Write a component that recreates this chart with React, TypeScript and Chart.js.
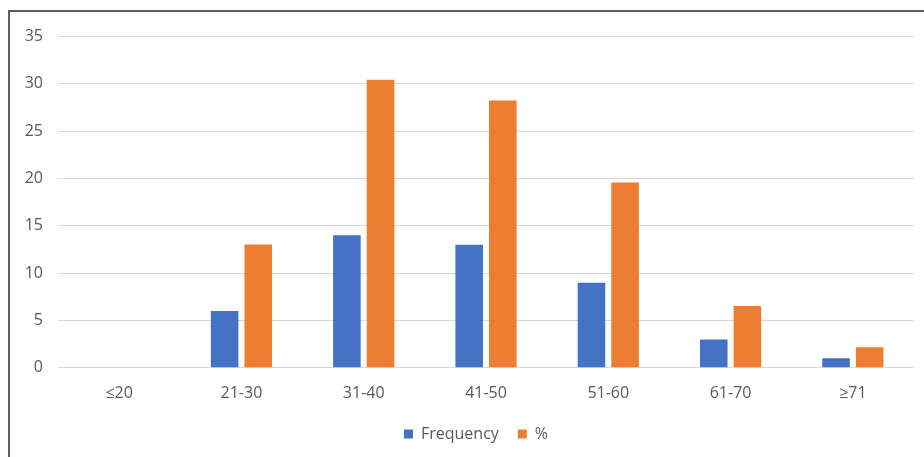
import React, { useEffect, useRef } from "react";
import { Chart, registerables } from "chart.js";

Chart.register(...registerables);

// Age groups and counts
const categories = ["≤20", "21-30", "31-40", "41-50", "51-60", "61-70", "≥71"];
const frequency = [0, 6, 14, 13, 9, 3, 1];
const percent = [0, 13.04, 30.43, 28.26, 19.57, 6.52, 2.17];
const yTicks = [0, 5, 10, 15, 20, 25, 30, 35];

const FONT = "'Open Sans', sans-serif";
const TEXT = "#595959";

// Nudge the legend block a little to the right of the canvas centre
const legendShift = {
  id: "legendShift",
  afterLayout(chart: any) {
    const l = chart.legend;
    if (l) {
      l.left += 14;
      l.right += 14;
    }
  },
};

export default function App() {
  const ref = useRef<HTMLCanvasElement>(null);

  useEffect(() => {
    const canvas = ref.current;
    if (!canvas) return;
    const chart = new Chart(canvas, {
      type: "bar",
      data: {
        labels: categories,
        datasets: [
          {
            label: "Frequency",
            data: frequency,
            backgroundColor: "#4472C4",
            categoryPercentage: 0.55,
            barPercentage: 0.82,
          },
          {
            label: "%",
            data: percent,
            backgroundColor: "#ED7D31",
            categoryPercentage: 0.55,
            barPercentage: 0.82,
          },
        ],
      },
      plugins: [legendShift],
      options: {
        responsive: false,
        animation: false,
        layout: { padding: { left: 0, right: 10, top: 13, bottom: 5 } },
        plugins: {
          tooltip: { enabled: false },
          legend: {
            position: "bottom",
            labels: {
              boxWidth: 9,
              boxHeight: 9,
              padding: 19,
              color: TEXT,
              font: { family: FONT, size: 16 },
            },
          },
        },
        scales: {
          x: {
            grid: { display: false, drawTicks: false },
            border: { display: false },
            ticks: { color: TEXT, font: { family: FONT, size: 16 }, padding: 16 },
            afterFit: (scale: any) => {
              scale.height = scale.height - 12;
            },
          },
          y: {
            min: 0,
            max: 35,
            afterBuildTicks: (scale: any) => {
              scale.ticks = yTicks.map((v) => ({ value: v }));
            },
            afterFit: (scale: any) => {
              scale.width = 48;
            },
            grid: { color: "#d9d9d9", drawTicks: false, lineWidth: 1 },
            border: { display: false },
            ticks: { color: TEXT, font: { family: FONT, size: 16 }, padding: 15 },
          },
        },
      },
    });
    return () => chart.destroy();
  }, []);

  return (
    <div
      style={{
        position: "fixed",
        left: 8,
        top: 10,
        width: 916,
        height: 447,
        borderTop: "2px solid #5e5e5e",
        borderLeft: "2px solid #5e5e5e",
        background: "#ffffff",
        overflow: "hidden",
      }}
    >
      <canvas ref={ref} width={914} height={445} style={{ display: "block" }} />
    </div>
  );
}
